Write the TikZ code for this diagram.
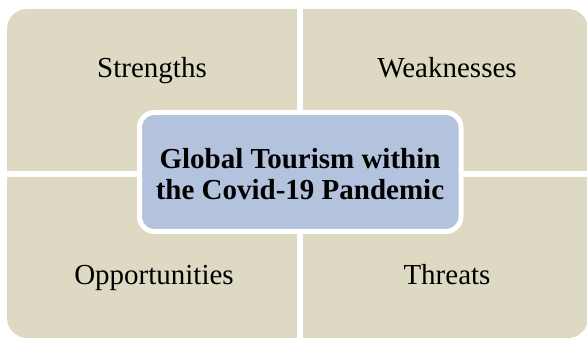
\documentclass[tikz,border=0pt]{standalone}
\usepackage{fontspec}
\setmainfont{Liberation Serif}
\definecolor{quadtan}{HTML}{DDD9C3}
\definecolor{hubblue}{HTML}{B3C3DE}
\begin{document}
\begin{tikzpicture}[x=1pt,y=1pt,
  quad/.style={fill=quadtan},
  label/.style={font=\fontsize{29}{31}\selectfont, text=black, inner sep=0pt, anchor=base},
  hub/.style={fill=hubblue, draw=white, line width=5pt, rounded corners=15pt},
  hubtext/.style={font=\fontsize{29}{31}\selectfont\bfseries, align=center, inner sep=0pt}]
\useasboundingbox (0,0) rectangle (587,340);
\clip (0,0) rectangle (587,340);
\fill[white] (0,0) rectangle (587,340);
% four quadrants, each rounded at its outer corner
\fill[quad] (297,169) -- (7,169) -- (7,311) arc[start angle=180,end angle=90,radius=20] -- (297,331) -- cycle;
\fill[quad] (303,169) -- (303,331) -- (568,331) arc[start angle=90,end angle=0,radius=20] -- (588,169) -- cycle;
\fill[quad] (297,163) -- (7,163) -- (7,22) arc[start angle=180,end angle=270,radius=20] -- (297,2) -- cycle;
\fill[quad] (303,163) -- (303,2) -- (568,2) arc[start angle=270,end angle=360,radius=20] -- (588,163) -- cycle;
% quadrant labels
\node[label] (s) at (152,262) {Strengths};
\node[label] (w) at (447,262) {Weaknesses};
\node[label] (o) at (154,55) {Opportunities};
\node[label] (t) at (447,55) {Threats};
% central topic
\draw[hub] (139.5,108.5) rectangle (461,227.5);
\node[hubtext] (c) at (300,166) {Global Tourism within\\the Covid-19 Pandemic};
\end{tikzpicture}
\end{document}
